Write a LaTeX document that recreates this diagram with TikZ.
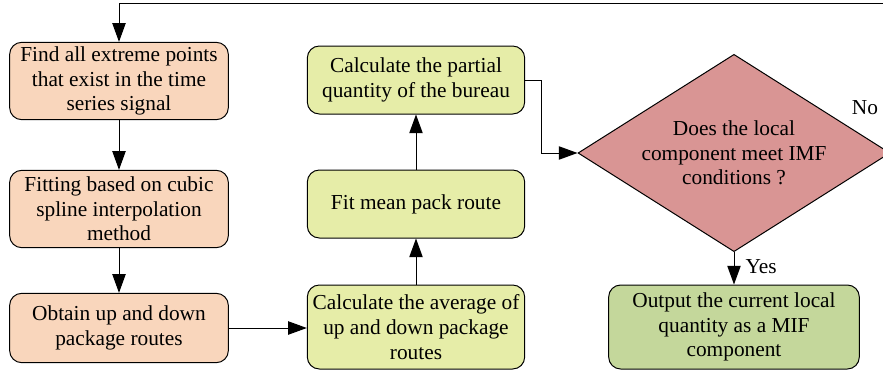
\documentclass[tikz,border=0pt]{standalone}
\usepackage{fontspec}
\setmainfont{Liberation Serif}
\usetikzlibrary{arrows.meta,shapes.geometric}

\definecolor{peach}{RGB}{249,214,188}
\definecolor{lime}{RGB}{230,237,168}
\definecolor{rose}{RGB}{217,149,148}
\definecolor{sage}{RGB}{196,215,155}

\tikzset{every picture/.style={line width=0.75pt}}
\tikzset{
  boxfont/.style={font=\rmfamily\fontsize{16}{18.5}\selectfont},
  stepbox/.style={draw, rounded corners=9pt, align=center, inner sep=0.75pt, boxfont},
  flow/.style={-{Triangle[length=14pt,width=10pt]}},
}

\begin{document}
\begin{tikzpicture}[x=0.75pt,y=0.75pt,yscale=-1,xscale=1]
\useasboundingbox (0,0) rectangle (883,372);

% Left column
\node [stepbox, fill=peach, minimum width=164pt, minimum height=58pt] (find) at (119,81)
  {Find all extreme points\\that exist in the time\\series signal};
\node [stepbox, fill=peach, minimum width=164pt, minimum height=58pt] (fit) at (119,209)
  {Fitting based on cubic\\spline interpolation\\method};
\node [stepbox, fill=peach, minimum width=164pt, minimum height=52pt] (obtain) at (119,328)
  {Obtain up and down\\package routes};

% Middle column
\node [stepbox, fill=lime, minimum width=163pt, minimum height=51pt] (partial) at (416,80)
  {Calculate the partial\\quantity of the bureau};
\node [stepbox, fill=lime, minimum width=163pt, minimum height=51pt] (mean) at (416,204)
  {Fit mean pack route};
\node [stepbox, fill=lime, minimum width=163pt, minimum height=63pt] (avg) at (416,327)
  {Calculate the average of\\up and down package\\routes};

% Decision and output
\node [draw, fill=rose, diamond, aspect=1.58, inner sep=0.75pt, minimum width=234pt,
  minimum height=148pt, align=center, boxfont] (imf) at (734,153)
  {Does the local\\component meet IMF\\conditions ?};
\node [stepbox, fill=sage, minimum width=188pt, minimum height=63pt] (out) at (734,327)
  {Output the current local\\quantity as a MIF\\component};

% Connectors
\draw [flow] (find) -- (fit);
\draw [flow] (fit) -- (obtain);
\draw [flow] (obtain.east |- 0,328) -- (avg.west |- 0,328);
\draw [flow] (avg) -- (mean);
\draw [flow] (mean) -- (partial);
\draw [flow] (partial.east) -- (541,80) -- (541,153) -- (imf.west);
\draw [flow] (imf.south) -- (out.north) node [pos=0.45, right=5pt, boxfont] (yes) {Yes};
\draw [flow] (imf.east) -- (imf.east |- 0,3) -- (find.north |- 0,3) -- (find.north);
\node [boxfont] (no) at (865,108) {No};

\end{tikzpicture}
\end{document}
